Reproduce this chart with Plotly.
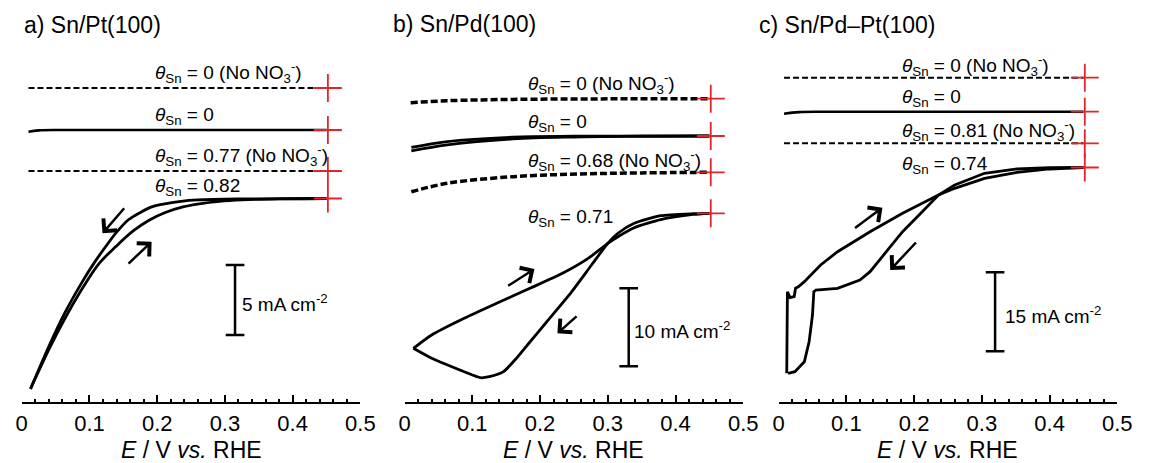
import plotly.graph_objects as go

# ---------------- data ----------------
# Potential E in V vs. RHE; current j in mA cm^-2, each curve relative to its own zero (at 0.45 V)

# Panel a) Sn/Pt(100)
E_a_nono3_0 = [0.010, 0.450]
j_a_nono3_0 = [0.0, 0.0]
E_a_sn0 = [0.010, 0.025, 0.060, 0.450]
j_a_sn0 = [-0.12, -0.03, 0.0, 0.0]
E_a_nono3_077 = [0.010, 0.450]
j_a_nono3_077 = [0.0, 0.0]
E_a_082_cat = [0.450, 0.330, 0.260, 0.235, 0.209, 0.192, 0.175, 0.158, 0.142, 0.124, 0.107,
               0.090, 0.064, 0.040, 0.013]
j_a_082_cat = [0.00, -0.03, -0.10, -0.20, -0.40, -0.60, -1.00, -1.50, -2.30, -3.43, -4.60,
               -5.90, -8.14, -10.57, -13.60]
E_a_082_an = [0.013, 0.042, 0.068, 0.095, 0.115, 0.139, 0.165, 0.188, 0.212, 0.238, 0.262,
              0.292, 0.325, 0.380, 0.450]
j_a_082_an = [-13.60, -10.60, -8.20, -6.00, -4.60, -3.43, -2.30, -1.55, -1.00, -0.60, -0.38,
              -0.20, -0.10, -0.03, 0.00]

# Panel b) Sn/Pd(100)
E_b_nono3_0 = [0.009, 0.063, 0.160, 0.300, 0.450]
j_b_nono3_0 = [-0.51, -0.26, -0.09, -0.02, 0.0]
E_b_sn0_cat = [0.010, 0.063, 0.160, 0.250, 0.350, 0.450]
j_b_sn0_cat = [-1.92, -1.15, -0.38, -0.13, -0.04, 0.0]
E_b_sn0_an = [0.010, 0.063, 0.160, 0.250, 0.350, 0.450]
j_b_sn0_an = [-1.47, -0.71, -0.15, -0.03, 0.0, 0.0]
E_b_nono3_068 = [0.010, 0.063, 0.160, 0.257, 0.350, 0.450]
j_b_nono3_068 = [-2.49, -1.41, -0.56, -0.22, -0.08, 0.0]
E_b_071_cat = [0.450, 0.426, 0.378, 0.339, 0.315, 0.300, 0.276, 0.243, 0.209, 0.185, 0.165,
               0.146, 0.125, 0.112, 0.088, 0.040, 0.013]
j_b_071_cat = [0.00, -0.05, -0.31, -1.28, -2.56, -3.85, -6.63, -10.47, -14.00, -16.50, -18.60,
               -20.30, -20.95, -21.08, -20.31, -18.59, -17.31]
E_b_071_an = [0.013, 0.040, 0.088, 0.136, 0.185, 0.233, 0.271, 0.300, 0.315, 0.339, 0.378,
              0.426, 0.450]
j_b_071_an = [-17.31, -15.60, -13.46, -11.54, -9.62, -7.69, -5.77, -3.85, -3.00, -1.85, -0.80,
              -0.15, 0.00]

# Panel c) Sn/Pd-Pt(100)
E_c_nono3_0 = [0.008, 0.450]
j_c_nono3_0 = [0.0, 0.0]
E_c_sn0 = [0.008, 0.030, 0.070, 0.450]
j_c_sn0 = [-0.40, -0.08, 0.0, 0.0]
E_c_nono3_081 = [0.008, 0.450]
j_c_nono3_081 = [0.0, 0.0]
E_c_074_cat = [0.450, 0.400, 0.352, 0.304, 0.260, 0.236, 0.212, 0.183, 0.159, 0.135, 0.120,
               0.087, 0.055, 0.052, 0.050, 0.045, 0.038, 0.024, 0.014]
j_c_074_cat = [0.00, -0.04, -0.28, -1.10, -3.32, -5.22, -8.39, -12.18, -15.98, -19.77, -21.35,
               -22.92, -23.25, -23.57, -27.99, -33.06, -36.85, -38.75, -39.05]
E_c_074_an = [0.012, 0.012, 0.013, 0.017, 0.023, 0.025, 0.029, 0.038, 0.062, 0.087, 0.135,
              0.183, 0.236, 0.260, 0.304, 0.352, 0.400, 0.450]
j_c_074_an = [-39.05, -38.10, -23.57, -24.70, -24.50, -22.90, -22.62, -21.67, -18.50, -15.98,
              -12.18, -8.69, -5.22, -3.95, -2.05, -0.91, -0.28, 0.00]

# scale bars (mA cm^-2)
scale_bar_values = [5, 10, 15]
scale_bar_labels = ["5 mA cm<sup>-2</sup>", "10 mA cm<sup>-2</sup>", "15 mA cm<sup>-2</sup>"]

panel_titles = ["a) Sn/Pt(100)", "b) Sn/Pd(100)", "c) Sn/Pd\u2013Pt(100)"]
curve_labels = [
    ["0 (No NO<sub>3</sub><sup>-</sup>)", "0", "0.77 (No NO<sub>3</sub><sup>-</sup>)", "0.82"],
    ["0 (No NO<sub>3</sub><sup>-</sup>)", "0", "0.68 (No NO<sub>3</sub><sup>-</sup>)", "0.71"],
    ["0 (No NO<sub>3</sub><sup>-</sup>)", "0", "0.81 (No NO<sub>3</sub><sup>-</sup>)", "0.74"],
]
x_ticks = [0, 0.1, 0.2, 0.3, 0.4, 0.5]
x_title = "<i>E</i> / V <i>vs.</i> RHE"

# ---------------- layout / style (positions in pixels) ----------------
W, H = 1149, 463
BOTTOM = 402          # pixel row of the x-axis line
PX_PER_V = 690.0
FONT = "Liberation Sans, Arial, sans-serif"
RED = "#e3242b"

panels = [
    dict(x0=16, zero=198.5, scale=14.0, offsets_px=[88, 130, 171, 198.5],
         label_x=150, label_y=[69, 113, 152, 184], title_xy=(16, 25),
         bar_x=233.3, bar_top=265, sb_label_x=238,
         arrows=[((121.7, 206.7), (98.3, 233.3)), ((123.3, 265), (148.3, 241.7))]),
    dict(x0=406, zero=213.3, scale=7.8, offsets_px=[98.7, 136, 172.3, 213.3],
         label_x=530, label_y=[80, 120, 157, 215], title_xy=(392, 24),
         bar_x=634.3, bar_top=288.3, sb_label_x=638,
         arrows=[((510, 286.7), (538.3, 269)), ((582.7, 315), (561.7, 333.3))]),
    dict(x0=787, zero=167.5, scale=5.27, offsets_px=[77.7, 111.7, 143.3, 167.5],
         label_x=911, label_y=[62, 95, 127, 162], title_xy=(765, 25),
         bar_x=1007.5, bar_top=272.3, sb_label_x=1016,
         arrows=[((863.3, 229), (892.7, 207.7)), ((928.3, 241), (900.7, 270))]),
]

curves = [
    [  # panel a
        [(E_a_nono3_0, j_a_nono3_0, 0, dict(width=2, dash="6px,3px"))],
        [(E_a_sn0, j_a_sn0, 1, dict(width=2.6, shape="spline"))],
        [(E_a_nono3_077, j_a_nono3_077, 2, dict(width=2, dash="6px,3px"))],
        [(E_a_082_cat, j_a_082_cat, 3, dict(width=2.8, shape="spline", smoothing=1.0)),
         (E_a_082_an, j_a_082_an, 3, dict(width=2.8, shape="spline", smoothing=1.0))],
    ],
    [  # panel b
        [(E_b_nono3_0, j_b_nono3_0, 0, dict(width=3.5, dash="7px,3px", shape="spline"))],
        [(E_b_sn0_cat, j_b_sn0_cat, 1, dict(width=2.8, shape="spline")),
         (E_b_sn0_an, j_b_sn0_an, 1, dict(width=2.8, shape="spline"))],
        [(E_b_nono3_068, j_b_nono3_068, 2, dict(width=3.5, dash="7px,3px", shape="spline"))],
        [(E_b_071_cat, j_b_071_cat, 3, dict(width=2.8, shape="spline", smoothing=0.6)),
         (E_b_071_an, j_b_071_an, 3, dict(width=2.8, shape="spline", smoothing=0.6))],
    ],
    [  # panel c
        [(E_c_nono3_0, j_c_nono3_0, 0, dict(width=2, dash="6px,3px"))],
        [(E_c_sn0, j_c_sn0, 1, dict(width=2.6, shape="spline"))],
        [(E_c_nono3_081, j_c_nono3_081, 2, dict(width=2, dash="6px,3px"))],
        [(E_c_074_cat, j_c_074_cat, 3, dict(width=2.8)),
         (E_c_074_an, j_c_074_an, 3, dict(width=2.8))],
    ],
]

fig = go.Figure()
annotations = []
shapes = []

for i, p in enumerate(panels):
    n = "" if i == 0 else str(i + 1)
    xa, ya = "x" + n, "y" + n

    def yv(px, p=p):
        return (p["zero"] - px) / p["scale"]

    def xv(px, p=p):
        return (px - p["x0"]) / PX_PER_V

    offsets = [yv(o) for o in p["offsets_px"]]

    for group in curves[i]:
        for E, j, k, st in group:
            line = dict(color="black", width=st["width"])
            if "dash" in st:
                line["dash"] = st["dash"]
            if "shape" in st:
                line["shape"] = st["shape"]
                if "smoothing" in st:
                    line["smoothing"] = st["smoothing"]
            fig.add_trace(go.Scatter(x=E, y=[v + offsets[k] for v in j], mode="lines",
                                     line=line, xaxis=xa, yaxis=ya, showlegend=False,
                                     hoverinfo="skip"))
    # red crosses at 0.45 V on each curve zero
    fig.add_trace(go.Scatter(x=[0.452] * 4, y=offsets, mode="markers",
                             marker=dict(symbol="cross-thin", size=20,
                                         line=dict(color=RED, width=1.8)),
                             xaxis=xa, yaxis=ya, showlegend=False, hoverinfo="skip"))

    # curve labels
    for k, txt in enumerate(curve_labels[i]):
        annotations.append(dict(
            x=xv(p["label_x"]), y=yv(p["label_y"][k] + 3), xref=xa, yref=ya,
            text="<i>\u03b8</i><sub>Sn</sub> = " + txt, showarrow=False,
            xanchor="left", yanchor="middle", font=dict(family=FONT, size=19, color="black")))

    # scale bar
    top = yv(p["bar_top"])
    bot = top - scale_bar_values[i]
    bx = xv(p["bar_x"])
    cap = 9.5 / PX_PER_V
    for (x0, y0, x1, y1) in [(bx, top, bx, bot), (bx - cap, top, bx + cap, top),
                             (bx - cap, bot, bx + cap, bot)]:
        shapes.append(dict(type="line", xref=xa, yref=ya, x0=x0, y0=y0, x1=x1, y1=y1,
                           line=dict(color="black", width=2.5)))
    annotations.append(dict(
        x=xv(p["sb_label_x"]), y=(top + bot) / 2 - 3.0 / p["scale"], xref=xa, yref=ya,
        text=scale_bar_labels[i], showarrow=False, xanchor="left", yanchor="middle",
        font=dict(family=FONT, size=19, color="black")))

    # arrows
    for (tail, head) in p["arrows"]:
        annotations.append(dict(
            x=xv(head[0]), y=yv(head[1]), ax=xv(tail[0]), ay=yv(tail[1]),
            xref=xa, yref=ya, axref=xa, ayref=ya, text="", showarrow=True,
            arrowhead=4, arrowsize=1.4, arrowwidth=2.5, arrowcolor="black", standoff=0))

    # panel title
    annotations.append(dict(
        x=p["title_xy"][0] / W, y=(BOTTOM - p["title_xy"][1]) / BOTTOM,
        xref="paper", yref="paper", text=panel_titles[i], showarrow=False,
        xanchor="left", yanchor="middle", font=dict(family=FONT, size=23, color="black")))

    # x-axis title
    annotations.append(dict(
        x=(p["x0"] + 0.25 * PX_PER_V) / W, y=(BOTTOM - 450) / BOTTOM,
        xref="paper", yref="paper", text=x_title, showarrow=False, borderpad=0,
        xanchor="center", yanchor="middle", font=dict(family=FONT, size=23, color="black")))

    dom = [p["x0"] / W, (p["x0"] + 0.5 * PX_PER_V) / W]
    fig.update_layout(**{
        "xaxis" + n: dict(domain=dom, range=[0, 0.5], anchor=ya, tickvals=x_ticks,
                          ticktext=[("%g" % t) for t in x_ticks],
                          ticks="inside", ticklen=7, tickwidth=2, tickcolor="black",
                          showline=True, linewidth=2.2, linecolor="black", showgrid=False,
                          zeroline=False, tickfont=dict(family=FONT, size=22, color="black"),
                          minor=dict(dtick=0.02, tick0=0, ticks="inside", ticklen=3,
                                     tickwidth=1.5, tickcolor="black", showgrid=False)),
        "yaxis" + n: dict(domain=[0, 1], range=[yv(BOTTOM), yv(0)], anchor=xa,
                          visible=False, showgrid=False, zeroline=False),
    })

fig.update_layout(width=W, height=H, margin=dict(l=0, r=0, t=0, b=H - BOTTOM),
                  paper_bgcolor="white", plot_bgcolor="white",
                  annotations=annotations, shapes=shapes, showlegend=False)

fig.write_html("out.html")
